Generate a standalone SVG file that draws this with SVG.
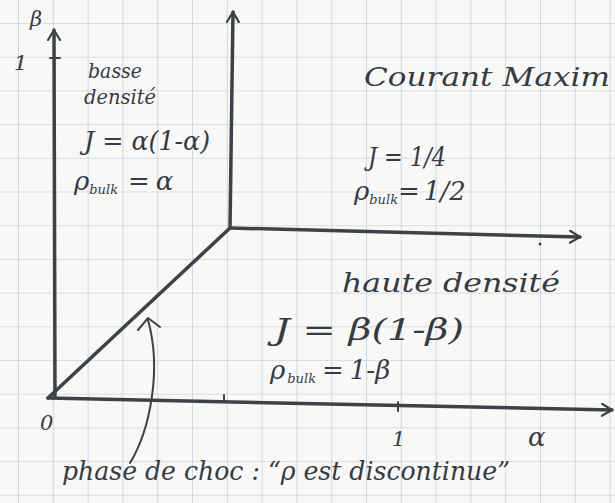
<svg xmlns="http://www.w3.org/2000/svg" width="615" height="503" viewBox="0 0 615 503">
<defs>
<pattern id="grid" x="18" y="23" width="34.8" height="33.7" patternUnits="userSpaceOnUse">
<path d="M0 0V33.7M0 0H34.8" fill="none" stroke="#b9c3d2" stroke-width="1.2"/>
</pattern>
<marker id="ah" markerWidth="14" markerHeight="14" refX="11" refY="7" orient="auto" markerUnits="userSpaceOnUse">
<path d="M1 1L11 7L1 13" fill="none" stroke="#3b4249" stroke-width="2.2" stroke-linecap="round" stroke-linejoin="round"/>
</marker>
</defs>
<style>
.ax{fill:none;stroke:#3b4249;stroke-width:3.5;stroke-linecap:round;stroke-linejoin:round}
.thin{fill:none;stroke:#3b4249;stroke-width:2;stroke-linecap:round}
text{font-family:"DejaVu Serif","Liberation Serif",serif;font-style:italic;fill:#353b43}
.t{font-size:26px}
.b{font-size:30px}
.s{font-size:21px}
.sub{font-size:13px}
</style>
<rect width="615" height="503" fill="#f8f8f6"/>
<rect width="615" height="503" fill="url(#grid)"/>

<g id="connectors">
<path class="ax" d="M55 398L54 30" marker-end="url(#ah)"/>
<path class="thin" d="M50 58H60"/>
<path class="ax" d="M48 398L612 410" marker-end="url(#ah)"/>
<path class="thin" d="M224 395V402M398 402V411"/>
<path class="ax" d="M48 398L230 228"/>
<path class="ax" d="M230 228L233 12" marker-end="url(#ah)"/>
<path class="ax" d="M230 228L580 237" marker-end="url(#ah)"/>
<circle cx="540" cy="244" r="1.5" fill="#3b4249"/>
<path class="thin" d="M130 463C150 430 162 370 148 320"/>
<path class="thin" d="M138 330L148 318L160 327" stroke-linejoin="round"/>
</g>

<g id="axis-labels">
<text x="30" y="26" class="s">β</text>
<text x="14" y="70" class="s">1</text>
<text x="40" y="430" class="s">0</text>
<text x="392" y="446" class="s">1</text>
<text x="528" y="446" class="t">α</text>
</g>

<g id="basse-densite">
<text x="88" y="78" class="s" textLength="54" lengthAdjust="spacingAndGlyphs">basse</text>
<text x="84" y="104" class="s" textLength="72" lengthAdjust="spacingAndGlyphs">densité</text>
<text x="84" y="150" class="t" textLength="126" lengthAdjust="spacingAndGlyphs">J = α(1-α)</text>
<text x="74" y="190" class="t">ρ<tspan class="sub" dy="4">bulk</tspan><tspan dy="-4" dx="10">=</tspan><tspan dx="6">α</tspan></text>
</g>

<g id="courant-maximum">
<text x="364" y="86" class="t" textLength="246" lengthAdjust="spacingAndGlyphs">Courant Maxim</text>
<text x="368" y="166" class="t" textLength="78" lengthAdjust="spacingAndGlyphs">J = 1/4</text>
<text x="354" y="200" class="t">ρ<tspan class="sub" dy="4">bulk</tspan><tspan dy="-4">=</tspan><tspan dx="4">1/2</tspan></text>
</g>

<g id="haute-densite">
<text x="342" y="292" class="t" textLength="218" lengthAdjust="spacingAndGlyphs">haute densité</text>
<text x="274" y="340" class="b" textLength="190" lengthAdjust="spacingAndGlyphs">J = β(1-β)</text>
<text x="270" y="379" class="t" font-size="28">ρ<tspan class="sub" dy="4" dx="2">bulk</tspan><tspan dy="-4" dx="6">=</tspan><tspan dx="6">1-β</tspan></text>
</g>

<g id="phase-choc">
<text x="62" y="480" class="t" textLength="448" lengthAdjust="spacingAndGlyphs">phase de choc : “ρ est discontinue”</text>
</g>
</svg>
